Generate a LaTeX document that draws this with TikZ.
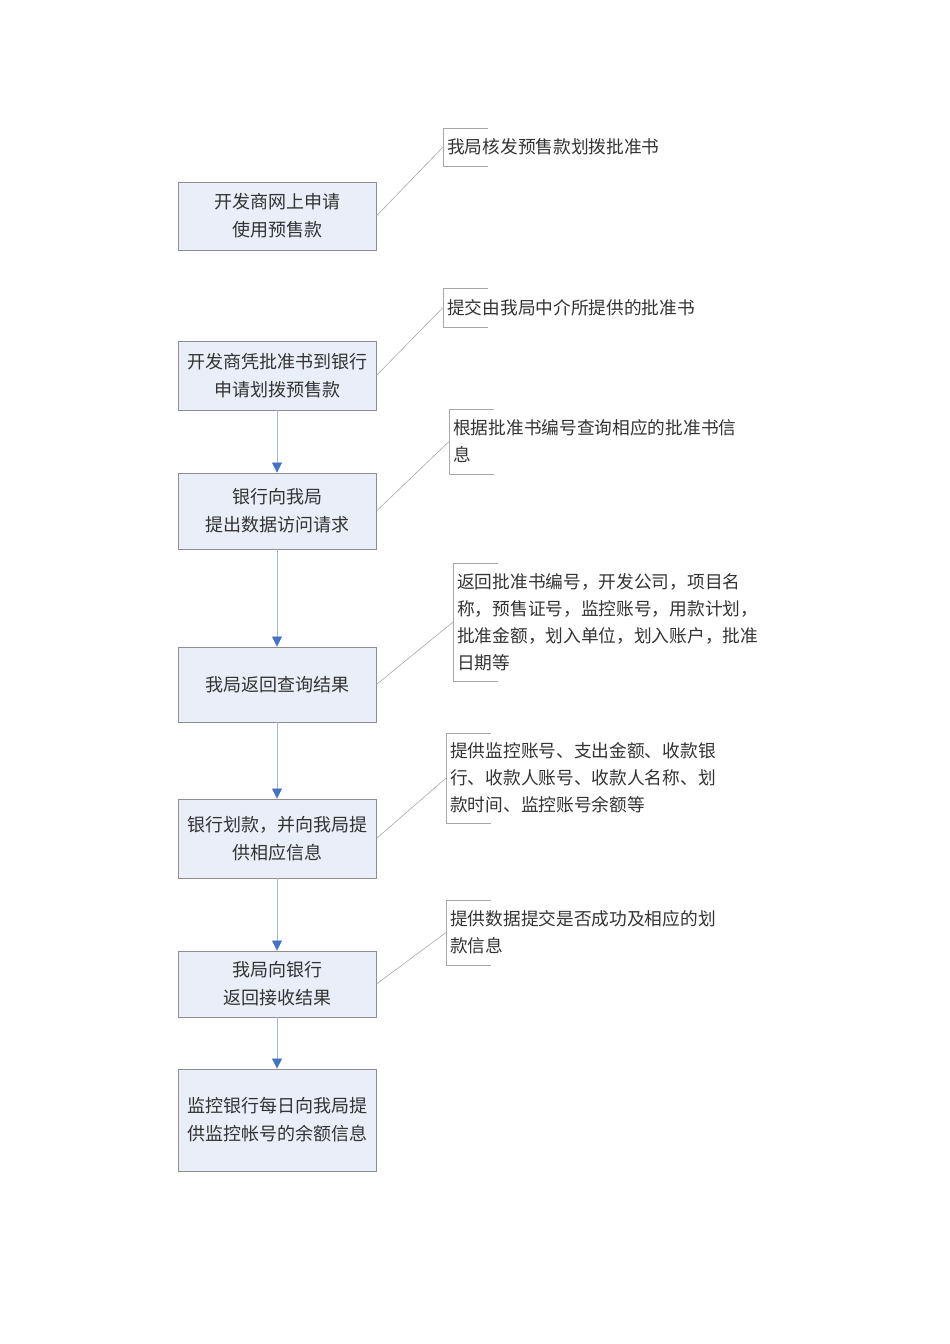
\documentclass[tikz,border=0pt]{standalone}
\usepackage{fontspec}
\setmainfont{Noto Sans CJK SC}
\usetikzlibrary{arrows.meta}
\definecolor{boxfill}{HTML}{E9EEF8}
\definecolor{boxline}{HTML}{8E8E8E}
\definecolor{flowline}{HTML}{A9B7D6}
\definecolor{tipblue}{HTML}{4472C4}
\definecolor{noteline}{HTML}{A8A8A8}
\tikzset{stepbox/.style = {draw = boxline, fill = boxfill, line width = 0.9pt, minimum width = 198pt, align = center,
                           font = \fontsize{18}{28}\selectfont, text = black!80}}
\tikzset{note/.style = {anchor = west, align = left, inner xsep = 4pt, inner ysep = 0pt,
                        font = \fontsize{17.7}{27}\selectfont, text = black!80}}
\tikzset{flow/.style = {draw = flowline, line width = 0.8pt, -{Triangle[length = 10pt, width = 10pt, color = tipblue]}}}
\tikzset{lead/.style = {draw = noteline, line width = 0.6pt}}
\newcommand{\bracket}[1]{\draw [lead] ([xshift = 45pt]#1.north west) -- (#1.north west) -- (#1.south west) -- ([xshift = 45pt]#1.south west);}

\begin{document}
\begin{tikzpicture}[x = 1pt, y = -1pt]
    \useasboundingbox (0,0) rectangle (950,1344);
    % steps
    \node [stepbox, minimum height = 68pt]  (apply)   at (277,216)   {开发商网上申请\\使用预售款};
    \node [stepbox, minimum height = 69pt]  (tobank)  at (277,375.5) {开发商凭批准书到银行\\申请划拨预售款};
    \node [stepbox, minimum height = 76pt]  (request) at (277,511)   {银行向我局\\提出数据访问请求};
    \node [stepbox, minimum height = 75pt]  (result)  at (277,684.5) {我局返回查询结果};
    \node [stepbox, minimum height = 79pt]  (pay)     at (277,838.5) {银行划款，并向我局提\\供相应信息};
    \node [stepbox, minimum height = 66pt]  (receipt) at (277,984)   {我局向银行\\返回接收结果};
    \node [stepbox, minimum height = 102pt] (daily)   at (277,1120)  {监控银行每日向我局提\\供监控帐号的余额信息};
    % notes
    \node [note, minimum height = 38pt]  (n1) at (443,147)   {我局核发预售款划拨批准书};
    \node [note, minimum height = 39pt]  (n2) at (443,307.5) {提交由我局中介所提供的批准书};
    \node [note, minimum height = 65pt]  (n3) at (449,441.5) {根据批准书编号查询相应的批准书信\\息};
    \node [note, minimum height = 118pt] (n4) at (453,622)   {返回批准书编号，开发公司，项目名\\称，预售证号，监控账号，用款计划，\\批准金额，划入单位，划入账户，批准\\日期等};
    \node [note, minimum height = 90pt]  (n5) at (446,778)   {提供监控账号、支出金额、收款银\\行、收款人账号、收款人名称、划\\款时间、监控账号余额等};
    \node [note, minimum height = 65pt]  (n6) at (446,932.5) {提供数据提交是否成功及相应的划\\款信息};
    \foreach \n in {n1,n2,n3,n4,n5,n6} {\bracket{\n}}
    % flow
    \draw [flow] (tobank)  -- (request);
    \draw [flow] (request) -- (result);
    \draw [flow] (result)  -- (pay);
    \draw [flow] (pay)     -- (receipt);
    \draw [flow] (receipt) -- (daily);
    % leaders
    \draw [lead] (apply.east)   -- (n1.west);
    \draw [lead] (tobank.east)  -- (n2.west);
    \draw [lead] (request.east) -- (n3.west);
    \draw [lead] (result.east)  -- (n4.west);
    \draw [lead] (pay.east)     -- (n5.west);
    \draw [lead] (receipt.east) -- (n6.west);
\end{tikzpicture}
\end{document}
